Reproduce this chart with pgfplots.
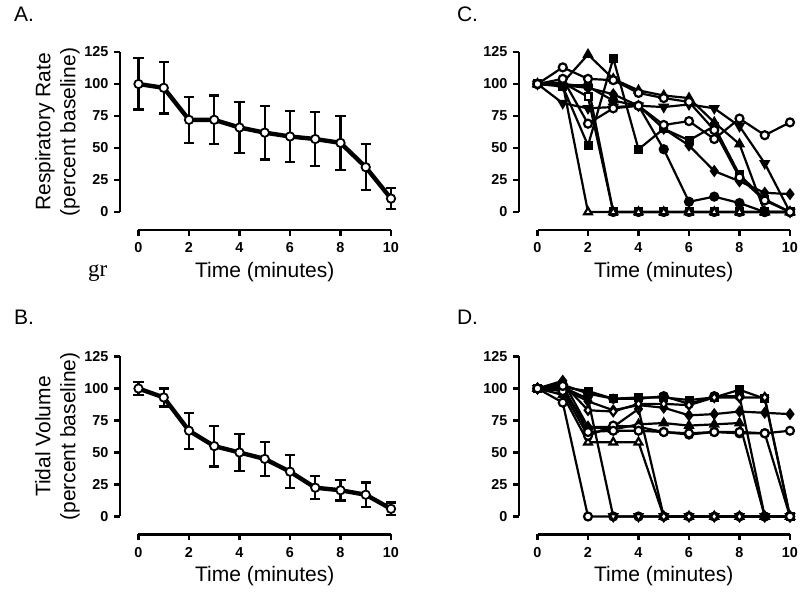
\documentclass[border=0pt]{standalone}
\usepackage{fontspec}
\setmainfont{Liberation Sans}
\newfontfamily\serifgr{Liberation Serif}
\usepackage{pgfplots}
\pgfplotsset{compat=1.18}
\pgfplotsset{
 prism/.style={
  scale only axis, width=126.25pt, height=80pt,
  xmin=0, xmax=10, ymin=0, ymax=125,
  axis x line=bottom, axis y line=left,
  axis x line shift=9pt, axis y line shift=9.25pt,
  axis line style={-, line width=1.4pt},
  xtick={0,2,...,10}, ytick={0,25,...,125},
  tick align=outside, major tick length=2.8pt,
  tick style={line width=1.4pt, black},
  clip=false,
  tick label style={font=\bfseries\fontsize{7.2}{8}\selectfont},
  yticklabel style={xshift=0.5pt},
  /pgf/number format/assume math mode=true,
  xlabel={Time (minutes)},
  xlabel style={at={(axis description cs:0.5,0)}, anchor=center, yshift=-30pt,
    font=\fontsize{10.5}{12.5}\selectfont},
  ylabel style={at={([xshift=-40.5pt]axis description cs:0,0.5)}, anchor=center,
    align=center, font=\fontsize{10.5}{12.5}\selectfont},
 },
 mean/.style={black, line width=2.2pt, mark=*, mark size=2.1pt,
  mark options={fill=white, line width=0.9pt},
  error bars/.cd, y dir=both, y explicit,
  error bar style={line width=1.1pt, black},
  error mark options={rotate=90, mark size=2.6pt, line width=1.1pt, black}},
 ind/.style={black, line width=1.1pt, mark size=2pt},
 fc/.style={ind, mark=*, mark options={solid, fill=black}},
 oc/.style={ind, mark=*, mark options={solid, fill=white}},
 fs/.style={ind, mark=square*, mark size=1.7pt, mark options={solid, fill=black}},
 os/.style={ind, mark=square*, mark size=1.7pt, mark options={solid, fill=white}},
 ft/.style={ind, mark=triangle*, mark size=2.2pt, mark options={solid, fill=black}},
 ot/.style={ind, mark=triangle*, mark size=2.2pt, mark options={solid, fill=white}},
 fv/.style={ind, mark=triangle*, mark size=2.2pt, mark options={solid, fill=black, rotate=180}},
 ov/.style={ind, mark=triangle*, mark size=2.2pt, mark options={solid, fill=white, rotate=180}},
 fd/.style={ind, mark=diamond*, mark size=2.2pt, mark options={solid, fill=black}},
 od/.style={ind, mark=diamond*, mark size=2.2pt, mark options={solid, fill=white}},
}
\begin{document}
\begin{tikzpicture}
\useasboundingbox (0,0) rectangle (400pt,297.5pt);
\node[anchor=base west, font=\fontsize{10.5}{12}\selectfont] at (3.5pt,286.5pt) {A.};
\node[anchor=base west, font=\fontsize{10.5}{12}\selectfont] at (225pt,286.5pt) {C.};
\node[anchor=base west, font=\fontsize{10.5}{12}\selectfont] at (3.5pt,135pt) {B.};
\node[anchor=base west, font=\fontsize{10.5}{12}\selectfont] at (225pt,135pt) {D.};
\node[anchor=base west, font=\serifgr\fontsize{11.5}{13}\selectfont] at (40.5pt,159pt) {gr};

% Panel A
\begin{axis}[prism, at={(69.25pt,191.5pt)}, anchor=south west,
  ylabel={Respiratory Rate\\(percent baseline)}]
\addplot[mean] coordinates {
 (0,100) +- (0,20)
 (1,97) +- (0,20)
 (2,72) +- (0,18)
 (3,72) +- (0,19)
 (4,66) +- (0,20)
 (5,62) +- (0,21)
 (6,59) +- (0,20)
 (7,57) +- (0,21)
 (8,54) +- (0,21)
 (9,35) +- (0,18)
 (10,10.5) +- (0,8)
};
\end{axis}

% Panel B
\begin{axis}[prism, at={(69.25pt,39.25pt)}, anchor=south west,
  ylabel={Tidal Volume\\(percent baseline)}]
\addplot[mean] coordinates {
 (0,100) +- (0,5)
 (1,93) +- (0,7)
 (2,67) +- (0,14)
 (3,55) +- (0,16)
 (4,50) +- (0,14.5)
 (5,45) +- (0,13.5)
 (6,35) +- (0,13)
 (7,22.5) +- (0,9)
 (8,20.5) +- (0,8)
 (9,17) +- (0,9.5)
 (10,6) +- (0,5)
};
\end{axis}

% Panel C
\begin{axis}[prism, at={(268.75pt,191.5pt)}, anchor=south west]
\addplot[os] coordinates {(0,100)(1,101)(2,90)(3,0)(4,0)(5,0)(6,0)(7,0)(8,0)(9,0)(10,0)};
\addplot[fc] coordinates {(0,100)(1,99)(2,99)(3,0)(4,0)(5,0)(6,0)(7,0)(8,0)(9,0)(10,0)};
\addplot[ot] coordinates {(0,100)(1,100)(2,0)(3,0)(4,0)(5,0)(6,0)(7,0)(8,0)(9,0)(10,0)};
\addplot[fc] coordinates {(0,100)(1,100)(2,98)(3,87)(4,83)(5,49)(6,8)(7,12)(8,7)(9,0)(10,0)};
\addplot[fs] coordinates {(0,100)(1,98)(2,52)(3,120)(4,49)(5,65)(6,56)(7,67)(8,29)(9,10)(10,0)};
\addplot[ft] coordinates {(0,100)(1,101)(2,123)(3,104)(4,95)(5,91)(6,89)(7,70)(8,53)(9,0)(10,0)};
\addplot[fv] coordinates {(0,100)(1,85)(2,81)(3,82)(4,83)(5,82)(6,84)(7,81)(8,67)(9,38)(10,0)};
\addplot[fd] coordinates {(0,100)(1,99)(2,97)(3,92)(4,83)(5,65)(6,52)(7,32)(8,24)(9,15)(10,14)};
\addplot[oc] coordinates {(0,100)(1,104)(2,69)(3,81)(4,83)(5,68)(6,71)(7,57)(8,73)(9,60)(10,70)};
\addplot[oc] coordinates {(0,100)(1,113)(2,104)(3,103)(4,93)(5,89)(6,86)(7,64)(8,27)(9,9)(10,0)};
\end{axis}

% Panel D
\begin{axis}[prism, at={(268.75pt,39.25pt)}, anchor=south west]
\addplot[oc] coordinates {(0,100)(1,89)(2,0)(3,0)(4,0)(5,0)(6,0)(7,0)(8,0)(9,0)(10,0)};
\addplot[ov] coordinates {(0,100)(1,101)(2,92)(3,0)(4,0)(5,0)(6,0)(7,0)(8,0)(9,0)(10,0)};
\addplot[ot] coordinates {(0,100)(1,95)(2,58)(3,58)(4,58)(5,0)(6,0)(7,0)(8,0)(9,0)(10,0)};
\addplot[od] coordinates {(0,100)(1,106)(2,70)(3,70)(4,84)(5,0)(6,0)(7,0)(8,0)(9,0)(10,0)};
\addplot[fs] coordinates {(0,100)(1,101)(2,98)(3,92)(4,93)(5,93)(6,91)(7,93)(8,99)(9,92)(10,0)};
\addplot[fc] coordinates {(0,100)(1,103)(2,96)(3,92)(4,92)(5,94)(6,88)(7,94)(8,94)(9,0)(10,0)};
\addplot[fd] coordinates {(0,100)(1,100)(2,90)(3,83)(4,87)(5,85)(6,79)(7,80)(8,82)(9,81)(10,80)};
\addplot[od] coordinates {(0,100)(1,104)(2,83)(3,82)(4,88)(5,88)(6,87)(7,93)(8,93)(9,93)(10,0)};
\addplot[ft] coordinates {(0,100)(1,99)(2,70)(3,68)(4,72)(5,73)(6,71)(7,72)(8,73)(9,0)(10,0)};
\addplot[oc] coordinates {(0,100)(1,98)(2,63)(3,71)(4,70)(5,66)(6,64)(7,66)(8,65)(9,65)(10,67)};
\addplot[oc] coordinates {(0,100)(1,102)(2,66)(3,67)(4,67)(5,66)(6,65)(7,66)(8,66)(9,65)(10,0)};
\end{axis}
\end{tikzpicture}
\end{document}
